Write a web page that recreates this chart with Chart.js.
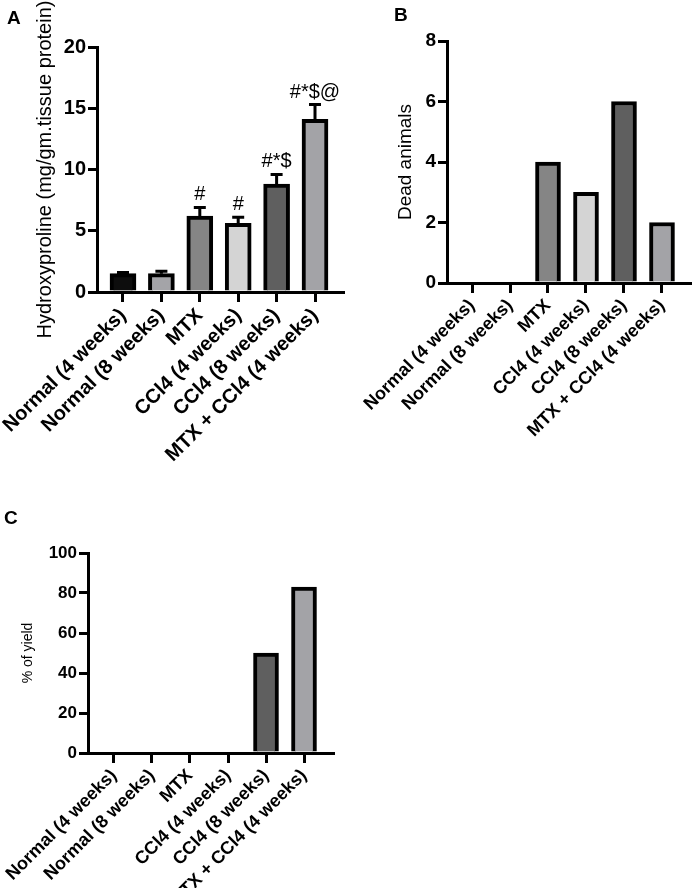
<!DOCTYPE html>
<html>
<head>
<meta charset="utf-8">
<script src="https://cdn.jsdelivr.net/npm/chart.js@4.4.1/dist/chart.umd.min.js"></script>
<style>
  body { margin: 0; background: #fff; width: 692px; height: 888px; position: relative; overflow: hidden; font-family: "Liberation Sans", Arial, sans-serif; }
  canvas { position: absolute; }
  .panel { position: absolute; font-weight: bold; font-size: 19px; color: #000; line-height: 1; z-index: 2; }
</style>
</head>
<body>
<div class="panel" style="left:7px;top:8px">A</div>
<div class="panel" style="left:394px;top:5px">B</div>
<div class="panel" style="left:4px;top:508px">C</div>
<!-- canvases start 40px left of where they show so the wide rotated labels get room -->
<canvas id="chartA" width="390" height="520" style="left:-40px;top:0"></canvas>
<canvas id="chartB" width="382" height="440" style="left:310px;top:0"></canvas>
<canvas id="chartC" width="385" height="358" style="left:-40px;top:530px"></canvas>
<script>
const groups = ['Normal (4 weeks)', 'Normal (8 weeks)', 'MTX', 'CCl4 (4 weeks)', 'CCl4 (8 weeks)', 'MTX + CCl4 (4 weeks)']
const barColors = ['#0d0d0d', '#a4a4a8', '#858585', '#d4d4d4', '#5f5f5f', '#a3a3a7']

// A: hydroxyproline
const hydroxyproline = [1.5, 1.5, 6.2, 5.6, 8.8, 14.1]
const hydroxyErr = [0.1, 0.2, 0.7, 0.5, 0.8, 1.2]
const hydroxySig = ['', '', '#', '#', '#*$', '#*$@']
// B: dead animals
const deadAnimals = [0, 0, 4, 3, 6, 2]
// C: % of yield
const yieldPct = [0, 0, 0, 0, 50, 83]

const FONT = '"Liberation Sans", Arial, sans-serif'

const errorBars = {
  id: 'errorBars',
  afterDatasetsDraw(chart, args, opts) {
    if (!opts.err) return
    const ctx = chart.ctx
    const yScale = chart.scales.y
    const meta = chart.getDatasetMeta(0)
    ctx.save()
    ctx.strokeStyle = '#000'
    ctx.lineWidth = 3
    ctx.fillStyle = '#000'
    ctx.font = '20px ' + FONT
    ctx.textAlign = 'center'
    ctx.textBaseline = 'alphabetic'
    meta.data.forEach((bar, i) => {
      const top = yScale.getPixelForValue(opts.values[i] + opts.err[i])
      ctx.beginPath()
      ctx.moveTo(bar.x, bar.y)
      ctx.lineTo(bar.x, top)
      ctx.moveTo(bar.x - 6, top)
      ctx.lineTo(bar.x + 6, top)
      ctx.stroke()
      if (opts.sig[i]) ctx.fillText(opts.sig[i], bar.x, top - 7)
    })
    ctx.restore()
  }
}

function makeChart(id, cfg) {
  const points = cfg.values.map((v, i) => ({ x: i, y: v }))
  return new Chart(document.getElementById(id), {
    type: 'bar',
    data: {
      datasets: [{
        data: points,
        backgroundColor: barColors,
        borderColor: '#000',
        borderWidth: 4,
        borderSkipped: 'bottom',
        barThickness: cfg.barWidth
      }]
    },
    options: {
      responsive: false,
      animation: false,
      events: [],
      layout: { padding: { left: 0, top: cfg.area.top, right: cfg.area.right, bottom: 0 } },
      plugins: {
        legend: { display: false },
        tooltip: { enabled: false },
        errorBars: { err: cfg.err, values: cfg.values, sig: cfg.sig }
      },
      scales: {
        x: {
          type: 'linear',
          offset: false,
          min: cfg.xMin,
          max: cfg.xMax,
          afterBuildTicks: (s) => { s.ticks = groups.map((g, i) => ({ value: i })) },
          afterFit: (s) => { s.height = cfg.area.xHeight },
          ticks: {
            autoSkip: false,
            minRotation: 45,
            maxRotation: 45,
            padding: 2,
            color: '#000',
            font: { family: FONT, size: cfg.labelSize, weight: 'bold' },
            callback: (v) => groups[v]
          },
          grid: { display: true, offset: false, drawOnChartArea: false, drawTicks: true, tickLength: 10, lineWidth: 3, color: '#000' },
          border: { display: true, color: '#000', width: 3 }
        },
        y: {
          min: 0,
          max: cfg.yMax,
          afterFit: (s) => { s.width = cfg.area.left },
          ticks: {
            stepSize: cfg.yStep,
            padding: 2,
            color: '#000',
            font: { family: FONT, size: cfg.tickSize, weight: 'bold' }
          },
          grid: { display: true, drawOnChartArea: false, drawTicks: true, tickLength: 9, lineWidth: 3, color: '#000' },
          border: { display: true, color: '#000', width: 3 },
          title: {
            display: true,
            text: cfg.title,
            color: '#000',
            font: { family: FONT, size: cfg.titleSize, weight: 'normal' },
            padding: { top: cfg.titlePad, bottom: 0 }
          }
        }
      }
    },
    plugins: [errorBars]
  })
}

makeChart('chartA', {
  values: hydroxyproline, err: hydroxyErr, sig: hydroxySig,
  title: 'Hydroxyproline (mg/gm.tissue protein)', titleSize: 20, titlePad: 73,
  yMax: 20, yStep: 5, tickSize: 20, labelSize: 20, barWidth: 26,
  xMin: -0.677, xMax: 5.729,
  area: { left: 137, top: 47, right: 7, xHeight: 228 }
})

makeChart('chartB', {
  values: deadAnimals,
  title: 'Dead animals', titleSize: 19, titlePad: 84,
  yMax: 8, yStep: 2, tickSize: 19, labelSize: 18, barWidth: 25,
  xMin: -0.658, xMax: 5.737,
  area: { left: 137, top: 41, right: 2, xHeight: 157 }
})

makeChart('chartC', {
  values: yieldPct,
  title: '% of yield', titleSize: 14, titlePad: 60,
  yMax: 100, yStep: 20, tickSize: 17, labelSize: 18, barWidth: 25,
  xMin: -0.684, xMax: 5.763,
  area: { left: 128, top: 23, right: 12, xHeight: 135 }
})
</script>
</body>
</html>
